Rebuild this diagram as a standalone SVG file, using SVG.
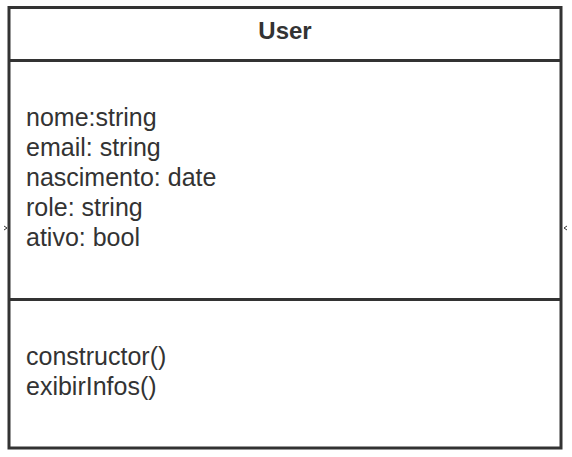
<svg xmlns="http://www.w3.org/2000/svg" width="572" height="457" viewBox="0 0 572 457">
  <style>
    .frame { fill: #ffffff; stroke: #333333; stroke-width: 3; }
    .rule { stroke: #333333; stroke-width: 3; fill: none; }
    .title { font-family: "Liberation Sans", Arial, sans-serif; font-size: 24px; font-weight: bold; fill: #333333; text-anchor: middle; }
    .member { font-family: "Liberation Sans", Arial, sans-serif; font-size: 25px; fill: #333333; }
    .tick { stroke: #333333; stroke-width: 1; fill: none; }
  </style>
  <rect width="572" height="457" fill="#ffffff"/>
  <g id="User">
    <rect class="frame" x="9" y="7.5" width="552" height="440.5"/>
    <line class="rule" x1="9" y1="60.5" x2="561" y2="60.5"/>
    <line class="rule" x1="9" y1="299.5" x2="561" y2="299.5"/>
    <text class="title" x="285" y="39">User</text>
    <text class="member" x="26" y="126">nome:string</text>
    <text class="member" x="26" y="156">email: string</text>
    <text class="member" x="26" y="186">nascimento: date</text>
    <text class="member" x="26" y="216">role: string</text>
    <text class="member" x="26" y="246">ativo: bool</text>
    <text class="member" x="26" y="365">constructor()</text>
    <text class="member" x="26" y="395">exibirInfos()</text>
  </g>
  <g id="connectors">
    <path class="tick" d="M4 226 L7 228 L4 230"/>
    <path class="tick" d="M567 226 L564 228 L567 230"/>
  </g>
</svg>
